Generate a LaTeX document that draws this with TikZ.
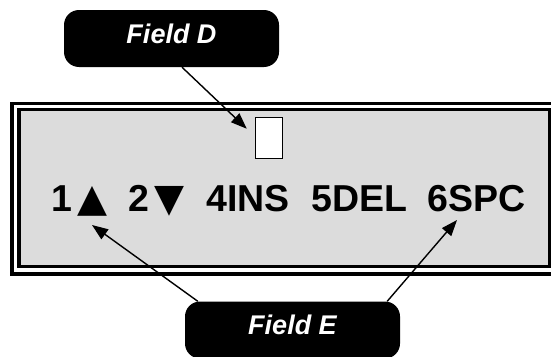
\documentclass[tikz,border=0pt]{standalone}
\usepackage{fontspec}
\setmainfont{Liberation Sans}
\newfontfamily\trifont{DejaVu Sans}
\usetikzlibrary{arrows.meta,positioning}
\definecolor{lcdgray}{RGB}{220,220,220}
\newcommand{\keytri}[1]{\kern5pt{\trifont\fontsize{39}{44}\selectfont#1}}

\begin{document}
\begin{tikzpicture}[x=1pt, y=-1pt]
        \tikzset{
            frameline/.style={draw=black, line width=3.5pt},
            fieldbox/.style={
                fill=black,
                text=white,
                rounded corners=15pt,
                minimum width=215pt,
                minimum height=57pt,
                text height=19pt,
                text depth=10pt,
                inner sep=0pt,
                font=\bfseries\itshape\fontsize{27}{32}\selectfont
            },
            keylabel/.style={anchor=base west, inner sep=0pt,
                font=\bfseries\fontsize{37.5}{42}\selectfont},
            pointer/.style={-{Triangle[length=16pt,width=12pt]}, line width=1.4pt}
        }
        \useasboundingbox (0,0) rectangle (551,356);
        \clip (0,0) rectangle (551,356);

        % display frame
        \fill[lcdgray] (19,109.5) rectangle (560,266.5);
        \draw[frameline] (12,103.5) rectangle (560,274);
        \draw[frameline] (19,109.5) rectangle (550,266.5);
        \node[draw=black, fill=white, line width=1.5pt, minimum width=27pt,
            minimum height=41pt, inner sep=0pt] (cursor) at (269,138) {};

        \node[keylabel] (key1) at (51,211) {1\keytri{▲}};
        \node[keylabel] (key2) at (128,211) {2\keytri{▼}};
        \node[keylabel] (key4) at (206,211) {4INS};
        \node[keylabel] (key5) at (311,211) {5DEL};
        \node[keylabel] (key6) at (427,211) {6SPC};

        \node[fieldbox] (fieldD) at (171.5,38.5) {Field D};
        \node[fieldbox] (fieldE) at (292.5,330) {Field E};

        \coordinate (tipD) at ([xshift=-8pt, yshift=-12pt]cursor.north west);
        \coordinate (tipE1) at (92,225);
        \coordinate (tipE2) at (457,220);

        \draw[pointer] ([xshift=10.5pt]fieldD.south) -- (tipD);
        \draw[pointer] ([xshift=13pt]fieldE.north west) -- (tipE1);
        \draw[pointer] ([xshift=-13pt]fieldE.north east) -- (tipE2);
    \end{tikzpicture}
\end{document}
